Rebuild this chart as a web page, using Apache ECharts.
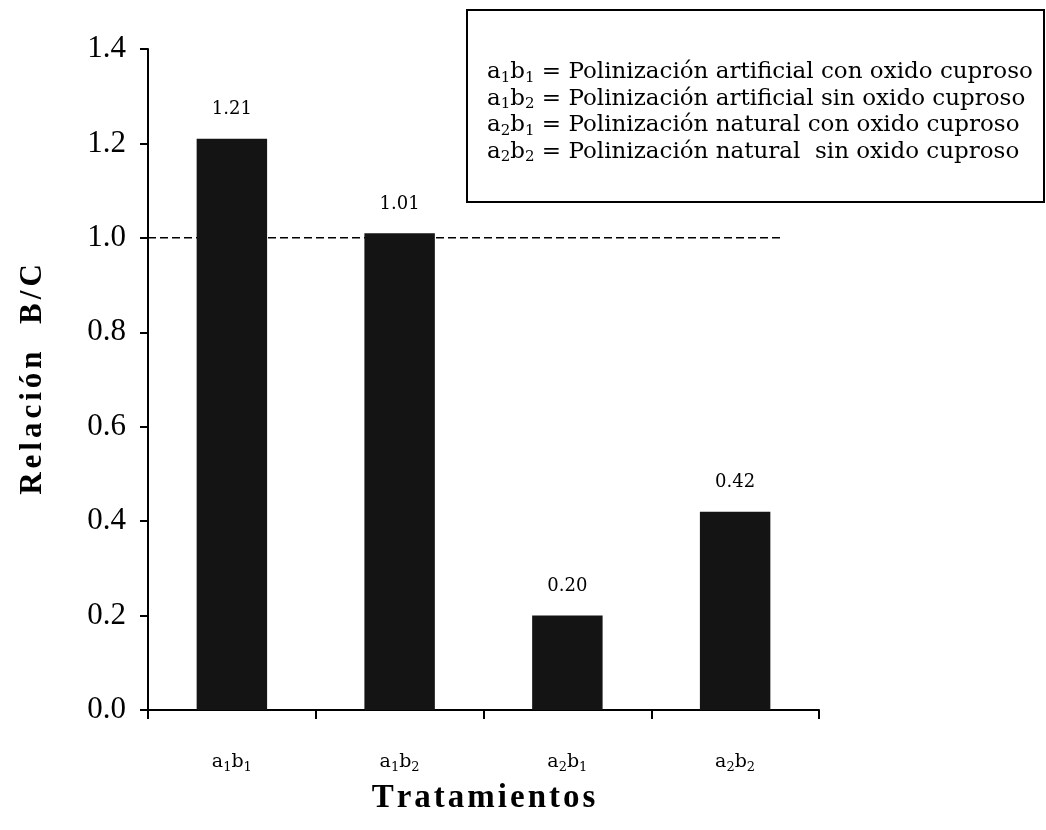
<!DOCTYPE html>
<html>
<head>
<meta charset="utf-8">
<script src="https://cdn.jsdelivr.net/npm/echarts@6/dist/echarts.min.js"></script>
<style>html,body{margin:0;padding:0;background:#fff}#c{width:1046px;height:830px}</style>
</head>
<body>
<div id="c"></div>
<script>
const categories = ['a₁b₁', 'a₁b₂', 'a₂b₁', 'a₂b₂'];
const values = [1.21, 1.01, 0.20, 0.42];
const yTicks = [0, 0.2, 0.4, 0.6, 0.8, 1.0, 1.2, 1.4];
const refValue = 1.0;
const refSpan = [-0.5, 3.28];
const legendCodes = ['a₁b₁', 'a₁b₂', 'a₂b₁', 'a₂b₂'];
const legendTexts = [
  'Polinización artificial con oxido cuproso',
  'Polinización artificial sin oxido cuproso',
  'Polinización natural con oxido cuproso',
  'Polinización natural  sin oxido cuproso'
];
const yName = 'Relación  B/C';
const xName = 'Tratamientos';

const serif = 'DejaVu Serif';
const times = 'Liberation Serif';

// turn unicode subscripts into rich-text tokens
function subRich(s) {
  return s.replace(/₁/g, '{s|1}').replace(/₂/g, '{s|2}');
}
// letter-spaced rich text
function spaced(s) {
  return s.split('').map(ch => '{l|' + ch + '}').join('');
}

const chart = echarts.init(document.getElementById('c'), null, {renderer: 'canvas'});
chart.setOption({
  backgroundColor: '#fff',
  animation: false,
  grid: {left: 148, right: 227, top: 49, bottom: 120, containLabel: false},
  xAxis: [{
    type: 'category',
    data: categories,
    boundaryGap: true,
    axisLine: {lineStyle: {color: '#000', width: 2}},
    axisTick: {show: true, length: 9, lineStyle: {color: '#000', width: 2}},
    axisLabel: {
      color: '#000', fontFamily: serif, fontSize: 19, margin: 40, lineHeight: 24,
      formatter: v => subRich(v),
      rich: {s: {fontFamily: serif, fontSize: 13, lineHeight: 14, verticalAlign: 'bottom', color: '#000'}}
    },
    name: spaced(xName),
    nameLocation: 'middle',
    nameGap: 72,
    nameTextStyle: {
      color: '#000', fontFamily: times, fontWeight: 'bold', fontSize: 33,
      rich: {l: {fontFamily: times, fontWeight: 'bold', fontSize: 33, color: '#000', padding: [0, 1.5, 0, 1.5]}}
    }
  }, {
    type: 'value',
    min: -0.5, max: 3.5,
    show: false
  }],
  yAxis: {
    type: 'value',
    min: yTicks[0], max: yTicks[yTicks.length - 1], interval: 0.2,
    axisLine: {show: true, onZero: false, lineStyle: {color: '#000', width: 2}},
    axisTick: {show: true, length: 8, lineStyle: {color: '#000', width: 2}},
    splitLine: {show: false},
    axisLabel: {color: '#000', fontFamily: times, fontSize: 31, margin: 22,
      formatter: v => v.toFixed(1)},
    name: spaced(yName),
    nameLocation: 'middle',
    nameGap: 100,
    nameTextStyle: {
      color: '#000', fontFamily: times, fontWeight: 'bold', fontSize: 31,
      rich: {l: {fontFamily: times, fontWeight: 'bold', fontSize: 31, color: '#000', padding: [0, 2, 0, 2]}}
    }
  },
  series: [{
    type: 'bar',
    data: values,
    barWidth: '42%',
    itemStyle: {color: '#141414'},
    label: {show: true, position: 'top', distance: 20, color: '#000', fontFamily: serif, fontSize: 18,
      formatter: p => p.value.toFixed(2)},
    z: 3
  }, {
    type: 'line',
    xAxisIndex: 1,
    data: [[refSpan[0], refValue], [refSpan[1], refValue]],
    symbol: 'none',
    lineStyle: {color: '#000', width: 1.5, type: [8, 4]},
    z: 2
  }],
  graphic: [{
    type: 'rect',
    shape: {x: 467, y: 10, width: 577, height: 192},
    style: {fill: '#fff', stroke: '#000', lineWidth: 2}
  }, {
    type: 'text',
    left: 487, top: 59,
    style: {
      text: legendCodes.map((c, i) => subRich(c) + ' = ' + legendTexts[i]).join('\n'),
      fill: '#000', fontFamily: serif, fontSize: 23, lineHeight: 26.5,
      rich: {s: {fontFamily: serif, fontSize: 15, lineHeight: 16, verticalAlign: 'bottom', fill: '#000'}}
    }
  }]
});
</script>
</body>
</html>
